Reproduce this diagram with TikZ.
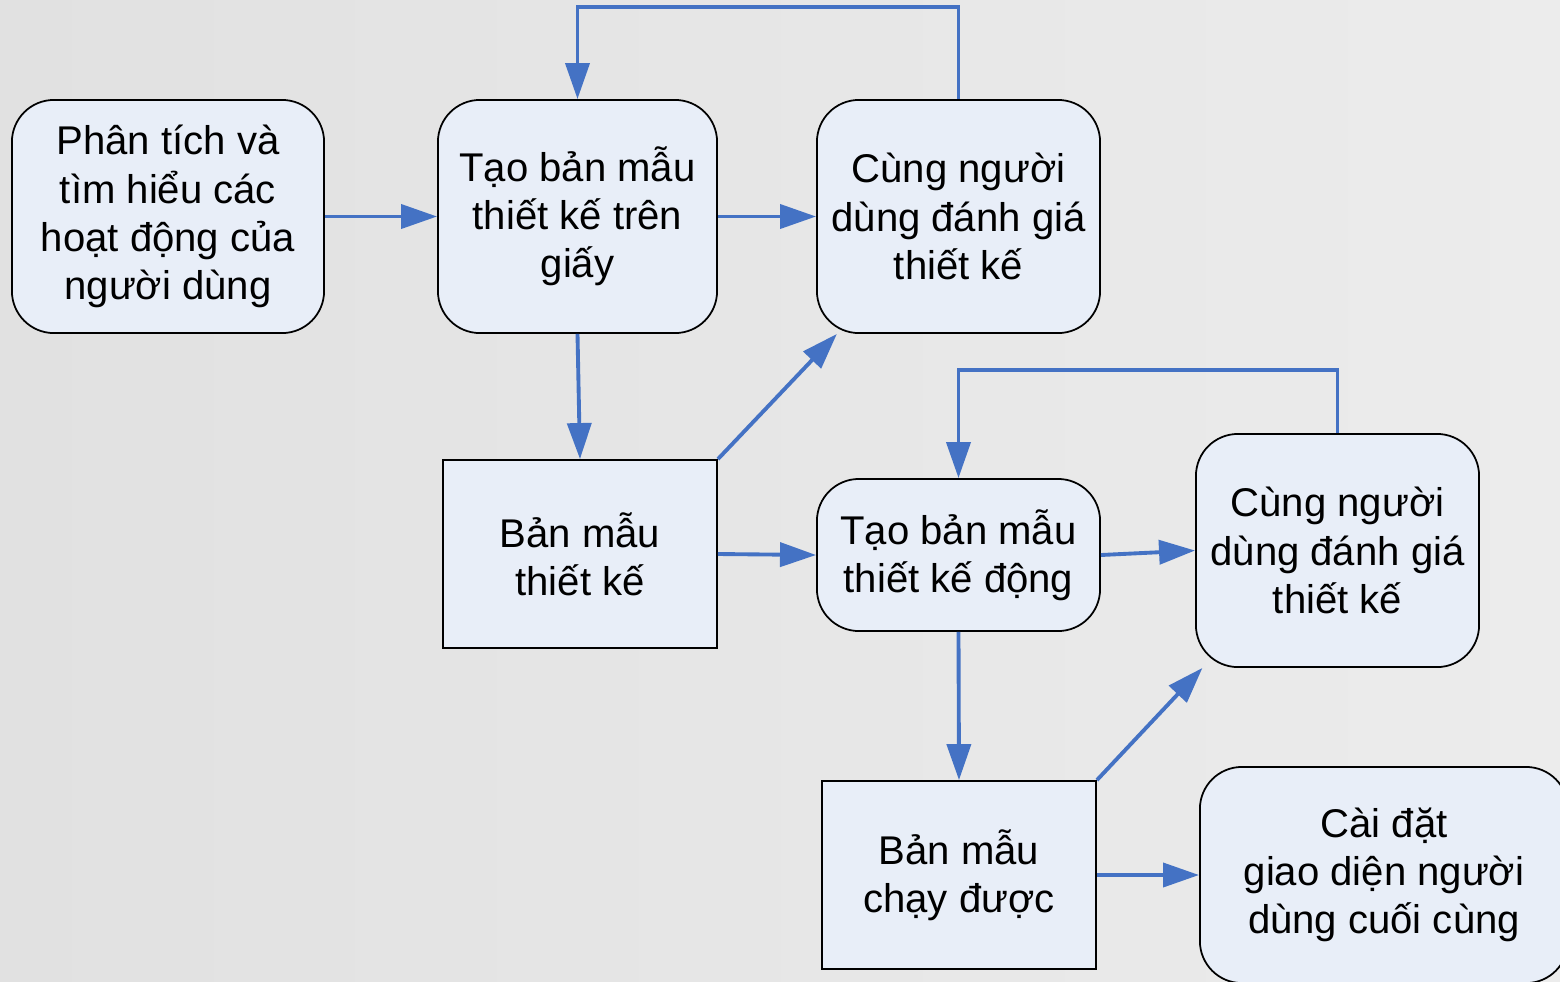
\documentclass[tikz,border=0pt]{standalone}
\usepackage{fontspec}
\setmainfont{Liberation Sans}
\usetikzlibrary{shapes,arrows.meta,positioning,calc}

\definecolor{flowblue}{RGB}{68,114,196}
\definecolor{boxfill}{RGB}{232,238,248}
\definecolor{bgleft}{RGB}{225,225,225}
\definecolor{bgright}{RGB}{236,236,236}

\begin{document}
\begin{tikzpicture}[x=0.01cm, y=-0.01cm,
    stage/.style={draw, line width=0.5pt, rounded corners=0.42cm, fill=boxfill, align=center,
                  font=\fontsize{11.4}{13.7}\selectfont},
    proto/.style={draw, line width=0.5pt, rectangle, fill=boxfill, align=center,
                  minimum width=2.74cm, minimum height=1.88cm,
                  font=\fontsize{11.4}{13.7}\selectfont},
    arr/.style={-{Triangle[length=0.36cm,width=0.24cm]}, draw=flowblue, line width=1.1pt}]

% Background
\useasboundingbox (0,0) rectangle (1560,981);
\clip (0,0) rectangle (1560,981);
\shade[left color=bgleft, right color=bgright] (0,0) rectangle (1560,981);

% First round: paper prototype
\node[stage, minimum width=3.12cm, minimum height=2.33cm] (analyse) at (168,216.5)
  {Phân tích và\\tìm hiểu các\\hoạt động của\\người dùng};
\node[stage, minimum width=2.79cm, minimum height=2.33cm] (paper) at (577.5,216.5)
  {Tạo bản mẫu\\thiết kế trên\\giấy};
\node[stage, minimum width=2.83cm, minimum height=2.33cm] (review1) at (958.5,216.5)
  {Cùng người\\dùng đánh giá\\thiết kế};
\node[proto] (sketch) at (580,554) {Bản mẫu\\thiết kế};

% Second round: dynamic prototype
\node[stage, minimum width=2.83cm, minimum height=1.52cm] (dynamic) at (958.5,555)
  {Tạo bản mẫu\\thiết kế động};
\node[stage, minimum width=2.83cm, minimum height=2.33cm] (review2) at (1337.5,550.5)
  {Cùng người\\dùng đánh giá\\thiết kế};
\node[proto] (running) at (959,875) {Bản mẫu\\chạy được};

% Final interface
\node[stage, minimum width=3.68cm, minimum height=2.16cm] (final) at (1384,875)
  {Cài đặt\\giao diện người\\dùng cuối cùng};

% Connectors
\draw[arr] (analyse.east) -- (paper.west);
\draw[arr] (paper.east) -- (review1.west);
\draw[arr] (paper.south) -- (sketch.north);
\draw[arr] (sketch.north east) -- (review1.224);
\draw[arr] (review1.north) -- ++(0,-92) -| (paper.north);

\draw[arr] (sketch.east) -- (dynamic.west);
\draw[arr] (dynamic.east) -- (review2.west);
\draw[arr] (dynamic.south) -- (running.north);
\draw[arr] (running.north east) -- (review2.221);
\draw[arr] (review2.north) -- ++(0,-63) -| (dynamic.north);
\draw[arr] (running.east) -- (final.west);

\end{tikzpicture}
\end{document}
